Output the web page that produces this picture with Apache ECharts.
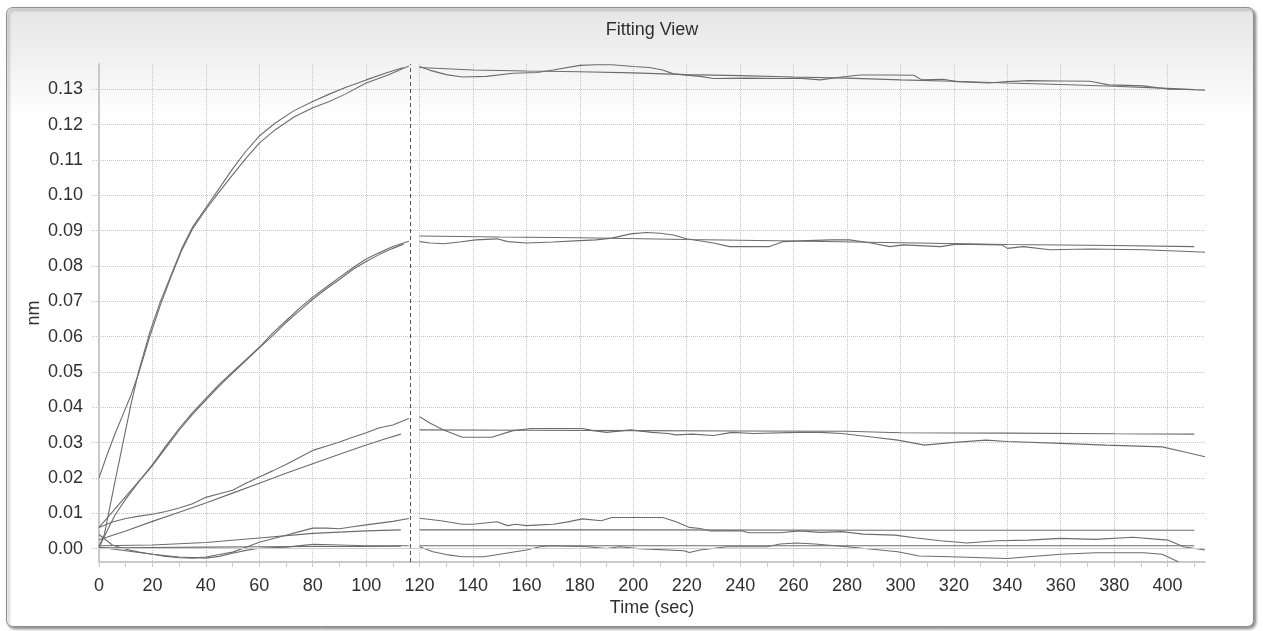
<!DOCTYPE html>
<html>
<head>
<meta charset="utf-8">
<script src="https://cdn.jsdelivr.net/npm/echarts@6/dist/echarts.min.js"></script>
<style>
  html, body { margin: 0; padding: 0; background: #ffffff; }
  #chart { width: 1263px; height: 631px; }
</style>
</head>
<body>
<div id="chart"></div>
<script>
// Binding response curves, each point is [time (sec), response (nm)].
// Association phase (0 – ~116 s)
const assocA1 = [[0,0.0200],[3,0.0265],[6,0.0325],[9,0.0380],[12,0.0435],[15,0.0500],[19,0.0600],[23,0.0690],[27,0.0770],[31,0.0845],[35,0.0905],[40,0.0960],[45,0.1010],[50,0.1058],[55,0.1105],[60,0.1148],[66,0.1186],[73,0.1222],[80,0.1248],[86,0.1265],[92,0.1286],[100,0.1318],[108,0.1340],[116,0.1366]];
const assocA2 = [[0,0.0005],[2,0.0040],[4,0.0115],[6,0.0190],[9,0.0300],[12,0.0410],[15,0.0506],[19,0.0612],[23,0.0700],[27,0.0775],[31,0.0850],[35,0.0910],[40,0.0965],[45,0.1020],[50,0.1075],[55,0.1125],[60,0.1168],[66,0.1205],[73,0.1240],[80,0.1266],[86,0.1286],[92,0.1305],[100,0.1327],[108,0.1348],[114,0.1362]];
const assocB1 = [[0,0.0060],[4,0.0095],[8,0.0130],[12,0.0165],[16,0.0200],[20,0.0238],[25,0.0290],[30,0.0340],[35,0.0385],[40,0.0425],[45,0.0465],[50,0.0500],[55,0.0535],[60,0.0570],[65,0.0610],[70,0.0645],[75,0.0680],[80,0.0712],[85,0.0740],[90,0.0768],[95,0.0795],[100,0.0820],[105,0.0838],[110,0.0855],[116,0.0870]];
const assocB2 = [[0,0.0003],[3,0.0050],[6,0.0095],[10,0.0140],[15,0.0190],[20,0.0235],[25,0.0285],[30,0.0335],[35,0.0380],[40,0.0420],[45,0.0460],[50,0.0497],[55,0.0532],[60,0.0568],[65,0.0603],[70,0.0640],[75,0.0673],[80,0.0706],[85,0.0735],[90,0.0762],[95,0.0790],[100,0.0813],[105,0.0833],[110,0.0850],[114,0.0862]];
const assocC1 = [[0,0.0060],[5,0.0075],[10,0.0085],[15,0.0092],[20,0.0097],[25,0.0105],[30,0.0115],[35,0.0127],[40,0.0145],[45,0.0155],[50,0.0165],[55,0.0185],[60,0.0203],[65,0.0220],[70,0.0238],[75,0.0258],[80,0.0278],[85,0.0290],[90,0.0302],[95,0.0315],[100,0.0328],[105,0.0342],[110,0.0350],[116,0.0368]];
const assocC2 = [[0,0.0025],[10,0.0050],[20,0.0077],[30,0.0103],[40,0.0129],[50,0.0157],[60,0.0185],[70,0.0213],[80,0.0240],[90,0.0267],[100,0.0293],[107,0.0310],[113,0.0324]];
const assocD1 = [[0,0.0040],[5,0.0010],[10,-0.0002],[15,-0.0010],[20,-0.0016],[25,-0.0022],[30,-0.0026],[35,-0.0027],[40,-0.0024],[45,-0.0017],[50,-0.0010],[55,0.0004],[60,0.0018],[65,0.0028],[70,0.0038],[75,0.0048],[80,0.0058],[85,0.0058],[90,0.0056],[95,0.0062],[100,0.0067],[105,0.0072],[110,0.0077],[116,0.0085]];
const assocD2 = [[0,0.0008],[20,0.0010],[40,0.0017],[60,0.0030],[80,0.0043],[100,0.0050],[113,0.0053]];
const assocE1 = [[0,0.0004],[10,-0.0006],[20,-0.0016],[30,-0.0024],[40,-0.0027],[45,-0.0022],[50,-0.0013],[55,-0.0005],[60,0.0001],[70,0.0004],[80,0.0012],[90,0.0010],[100,0.0008],[116,0.0008]];
const assocE2 = [[0,0.0002],[20,0.0003],[40,0.0004],[60,0.0005],[80,0.0006],[100,0.0006],[113,0.0007]];

// Dissociation phase (~120 – 414 s)
const dissocA1 = [[120,0.1365],[124,0.1354],[130,0.1342],[136,0.1335],[145,0.1337],[155,0.1346],[164,0.1348],[170,0.1355],[180,0.1368],[186,0.1370],[192,0.1370],[200,0.1365],[206,0.1362],[211,0.1355],[215,0.1344],[225,0.1337],[230,0.1331],[242,0.1332],[255,0.1331],[262,0.1332],[270,0.1327],[278,0.1335],[285,0.1341],[295,0.1341],[305,0.1340],[308,0.1327],[316,0.1329],[321,0.1322],[333,0.1318],[340,0.1322],[348,0.1325],[360,0.1324],[371,0.1323],[378,0.1313],[391,0.1310],[400,0.1301],[407,0.1300],[414,0.1298]];
const dissocA2 = [[120,0.1362],[140,0.1355],[160,0.1352],[180,0.1350],[200,0.1347],[220,0.1342],[240,0.1339],[260,0.1335],[280,0.1332],[300,0.1327],[320,0.1323],[340,0.1318],[360,0.1314],[380,0.1309],[400,0.1303],[410,0.1300]];
const dissocB1 = [[120,0.0869],[124,0.0865],[129,0.0863],[135,0.0868],[141,0.0874],[149,0.0877],[153,0.0869],[160,0.0865],[170,0.0868],[180,0.0872],[186,0.0874],[192,0.0879],[199,0.0891],[205,0.0895],[210,0.0893],[215,0.0888],[220,0.0877],[230,0.0865],[236,0.0855],[251,0.0855],[256,0.0869],[265,0.0872],[274,0.0874],[281,0.0874],[289,0.0865],[296,0.0855],[301,0.0860],[315,0.0855],[321,0.0862],[338,0.0860],[340,0.0850],[346,0.0855],[356,0.0846],[371,0.0848],[391,0.0846],[398,0.0844],[408,0.0841],[414,0.0839]];
const dissocB2 = [[120,0.0885],[150,0.0882],[180,0.0880],[220,0.0875],[260,0.0871],[300,0.0866],[340,0.0861],[380,0.0858],[410,0.0855]];
const dissocC1 = [[120,0.0373],[124,0.0355],[129,0.0336],[136,0.0315],[147,0.0315],[155,0.0334],[162,0.0340],[170,0.0340],[181,0.0340],[185,0.0334],[190,0.0329],[199,0.0336],[207,0.0329],[213,0.0326],[216,0.0322],[222,0.0324],[230,0.0320],[237,0.0329],[245,0.0326],[262,0.0329],[270,0.0329],[278,0.0326],[290,0.0315],[299,0.0307],[309,0.0293],[319,0.0300],[332,0.0307],[340,0.0303],[360,0.0298],[377,0.0293],[398,0.0288],[406,0.0274],[414,0.0260]];
const dissocC2 = [[120,0.0336],[160,0.0335],[200,0.0334],[240,0.0333],[280,0.0332],[300,0.0328],[340,0.0327],[380,0.0325],[410,0.0324]];
const dissocD1 = [[120,0.0086],[128,0.0079],[136,0.0069],[140,0.0069],[149,0.0076],[153,0.0065],[156,0.0069],[160,0.0065],[165,0.0067],[170,0.0069],[175,0.0075],[181,0.0084],[188,0.0079],[192,0.0088],[199,0.0088],[202,0.0088],[211,0.0088],[216,0.0076],[221,0.0060],[225,0.0057],[229,0.0050],[241,0.0050],[243,0.0045],[255,0.0045],[262,0.0050],[270,0.0046],[278,0.0048],[286,0.0041],[298,0.0038],[306,0.0030],[315,0.0022],[325,0.0016],[336,0.0022],[348,0.0024],[360,0.0029],[373,0.0026],[387,0.0032],[400,0.0024],[406,0.0005],[414,-0.0004]];
const dissocD2 = [[120,0.0053],[200,0.0053],[300,0.0052],[410,0.0052]];
const dissocE1 = [[120,0.0005],[125,-0.0009],[130,-0.0017],[136,-0.0023],[144,-0.0023],[150,-0.0016],[160,-0.0004],[165,0.0005],[169,0.0008],[183,0.0005],[190,0.0000],[195,0.0005],[202,0.0000],[219,-0.0006],[221,-0.0011],[225,-0.0004],[235,0.0005],[250,0.0005],[255,0.0013],[261,0.0016],[268,0.0013],[280,0.0005],[299,-0.0009],[307,-0.0021],[319,-0.0023],[340,-0.0028],[348,-0.0023],[360,-0.0016],[373,-0.0012],[391,-0.0012],[398,-0.0016],[404,-0.0037]];
const dissocE2 = [[120,0.0008],[260,0.0008],[410,0.0008]];

// Step boundary between association and dissociation (sec)
const phaseBoundary = 116.4;

// Axis ticks and labels
const xTickValues = [0,10,20,30,40,50,60,70,80,90,100,110,120,130,140,150,160,170,180,190,200,210,220,230,240,250,260,270,280,290,300,310,320,330,340,350,360,370,380,390,400,410];
const xLabelValues = [0,20,40,60,80,100,120,140,160,180,200,220,240,260,280,300,320,340,360,380,400];
const yTickValues = [0,0.01,0.02,0.03,0.04,0.05,0.06,0.07,0.08,0.09,0.10,0.11,0.12,0.13];

const curves = [
  assocA1, assocA2, assocB1, assocB2, assocC1, assocC2, assocD1, assocD2, assocE1, assocE2,
  dissocA1, dissocA2, dissocB1, dissocB2, dissocC1, dissocC2, dissocD1, dissocD2, dissocE1, dissocE2
];

const FONT = "'Liberation Sans', Arial, sans-serif";
const FONT_SIZE = 18;
const LINE_COLOR = '#6c6c6c';
const GRID_COLOR = '#c4c4c4';
const AXIS_COLOR = '#c9c9c9';
const TEXT_COLOR = '#303030';

const chart = echarts.init(document.getElementById('chart'), null, { renderer: 'canvas' });

const series = curves.map(function (d, i) {
  const s = {
    type: 'line',
    data: d,
    symbol: 'none',
    showSymbol: false,
    silent: true,
    animation: false,
    clip: true,
    z: 3,
    lineStyle: { color: LINE_COLOR, width: 1.1 }
  };
  if (i === 0) {
    s.markLine = {
      silent: true,
      symbol: 'none',
      animation: false,
      label: { show: false },
      data: [
        { xAxis: phaseBoundary, lineStyle: { color: '#555555', type: [4, 3], width: 1 } },
        { yAxis: 0, lineStyle: { color: '#cfcfcf', type: 'solid', width: 1.2 } }
      ]
    };
  }
  return s;
});

chart.setOption({
  animation: false,
  backgroundColor: 'transparent',
  graphic: [
    {
      type: 'rect',
      z: -100,
      silent: true,
      shape: { x: 6.5, y: 7.5, width: 1247, height: 619, r: 6 },
      style: {
        fill: new echarts.graphic.LinearGradient(0, 0, 0, 1, [
          { offset: 0, color: '#e5e5e5' },
          { offset: 0.18, color: '#ffffff' },
          { offset: 1, color: '#ffffff' }
        ]),
        stroke: '#8f8f8f',
        lineWidth: 1,
        shadowBlur: 3,
        shadowOffsetX: 2,
        shadowOffsetY: 2,
        shadowColor: 'rgba(0,0,0,0.45)'
      }
    },
    {
      type: 'text',
      z: 10,
      silent: true,
      style: {
        text: 'Fitting View',
        x: 652,
        y: 30,
        align: 'center',
        verticalAlign: 'middle',
        font: FONT_SIZE + 'px ' + FONT,
        fill: TEXT_COLOR
      }
    }
  ],
  grid: {
    left: 99, right: 58, top: 64, bottom: 69,
    containLabel: false,
    outerBoundsMode: 'none'
  },
  xAxis: [
    {
      type: 'value',
      min: 0,
      max: 414,
      position: 'bottom',
      name: 'Time (sec)',
      nameLocation: 'middle',
      nameGap: 37,
      nameMoveOverlap: false,
      nameTextStyle: { color: TEXT_COLOR, fontSize: FONT_SIZE, fontFamily: FONT },
      axisLine: { show: true, onZero: false, lineStyle: { color: AXIS_COLOR, width: 2 } },
      axisTick: { show: false, customValues: xLabelValues },
      axisLabel: {
        customValues: xLabelValues,
        margin: 15,
        color: TEXT_COLOR,
        fontSize: FONT_SIZE,
        fontFamily: FONT
      },
      splitLine: { show: true, lineStyle: { color: GRID_COLOR, type: [1, 1], width: 1 } }
    },
    {
      type: 'value',
      min: 0,
      max: 414,
      position: 'bottom',
      axisLine: { show: false, onZero: false },
      axisTick: { show: true, length: 5, customValues: xTickValues, lineStyle: { color: AXIS_COLOR, width: 1 } },
      axisLabel: { show: false },
      splitLine: { show: false }
    }
  ],
  yAxis: {
    type: 'value',
    min: -0.0038,
    max: 0.1372,
    name: 'nm',
    nameLocation: 'middle',
    nameGap: 56,
    nameMoveOverlap: false,
    nameRotate: 90,
    nameTextStyle: { color: TEXT_COLOR, fontSize: FONT_SIZE, fontFamily: FONT },
    axisLine: { show: true, onZero: false, lineStyle: { color: AXIS_COLOR, width: 2 } },
    axisTick: { show: true, length: 8, customValues: yTickValues, lineStyle: { color: GRID_COLOR, type: [1, 1], width: 1 } },
    axisLabel: {
      customValues: yTickValues,
      margin: 16,
      color: TEXT_COLOR,
      fontSize: FONT_SIZE,
      fontFamily: FONT,
      formatter: function (v) { return v.toFixed(2); }
    },
    splitLine: { show: true, lineStyle: { color: GRID_COLOR, type: [1, 1], width: 1 } }
  },
  series: series
});
</script>
</body>
</html>
